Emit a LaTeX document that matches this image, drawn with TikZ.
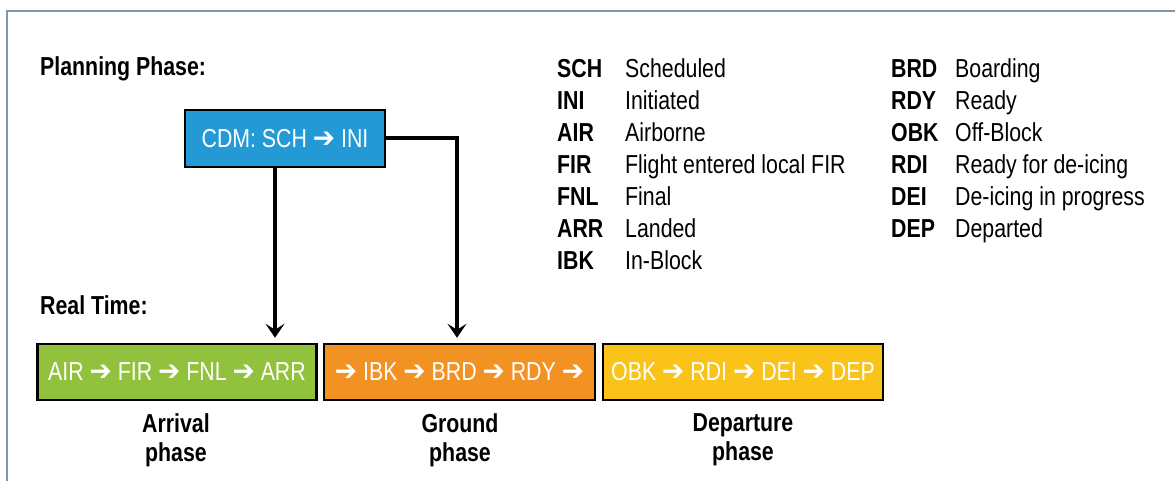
\documentclass[tikz,border=0pt]{standalone}
\usepackage{fontspec}
\setmainfont{Liberation Sans}[FakeStretch=0.82]
\newfontfamily\arrowfont{DejaVu Sans}[FakeStretch=0.95]
\usepackage{tikz}
\usetikzlibrary{arrows.meta}

\definecolor{cdmblue}{HTML}{2399D6}
\definecolor{arrgreen}{HTML}{92C13E}
\definecolor{gndorange}{HTML}{F29222}
\definecolor{depyellow}{HTML}{FAC319}
\definecolor{framegray}{HTML}{7D98A8}

\newcommand{\nextstate}{{\arrowfont\bfseries\fontsize{28}{29}\selectfont ➔}}
\newcommand{\legendrow}[2]{\makebox[68pt][l]{\bfseries #1}#2}

\begin{document}
\begin{tikzpicture}[x=1pt, y=-1pt,
    font=\fontsize{26}{29}\selectfont,
    phasebox/.style={draw=black, line width=2.5pt, text=white, minimum height=56pt, inner sep=0pt},
    heading/.style={anchor=base west, inner sep=0pt, font=\fontsize{26}{29}\selectfont\bfseries},
    legend/.style={anchor=base west, inner sep=0pt},
    caption/.style={align=center, inner sep=0pt, font=\fontsize{26}{29}\selectfont\bfseries},
    link/.style={line width=4pt, -{Stealth[length=14pt, width=19pt, inset=6pt]}, shorten >=5pt}]
  \useasboundingbox (0, 0) rectangle (1175, 481);
  \draw [framegray, line width=1.5pt] (7, 481) -- (7, 11) -- (1175, 11);

  \node [heading] (plan) at (40, 76) {Planning Phase:};
  \node [heading] (real) at (40, 314) {Real Time:};

  \node [phasebox, fill=cdmblue, minimum width=200pt, minimum height=57pt] (cdm) at (285, 138.5) {CDM: SCH \nextstate{} INI};

  \node [phasebox, fill=arrgreen, minimum width=279pt] (arrival) at (177, 372) {AIR \nextstate{} FIR \nextstate{} FNL \nextstate{} ARR};
  \node [phasebox, fill=gndorange, minimum width=271pt] (ground) at (459.5, 372) {\nextstate{} IBK \nextstate{} BRD \nextstate{} RDY \nextstate};
  \node [phasebox, fill=depyellow, minimum width=280pt] (departure) at (743, 372) {OBK \nextstate{} RDI \nextstate{} DEI \nextstate{} DEP};

  \node [caption] (arrcap) at (176, 440) {Arrival\\phase};
  \node [caption] (gndcap) at (460, 440) {Ground\\phase};
  \node [caption] (depcap) at (743, 440) {Departure\\phase};

  \draw [link] ([xshift=-10pt]cdm.south) -- ([xshift=-10pt]cdm.south |- arrival.north);
  \draw [link] (cdm.east) -| ([xshift=-2.5pt]ground.north);

  % legend
  \node [legend] (sch) at (557, 77.5) {\legendrow{SCH}{Scheduled}};
  \node [legend] (ini) at (557, 109.5) {\legendrow{INI}{Initiated}};
  \node [legend] (air) at (557, 141.5) {\legendrow{AIR}{Airborne}};
  \node [legend] (fir) at (557, 173.5) {\legendrow{FIR}{Flight entered local FIR}};
  \node [legend] (fnl) at (557, 205.5) {\legendrow{FNL}{Final}};
  \node [legend] (arr) at (557, 237.5) {\legendrow{ARR}{Landed}};
  \node [legend] (ibk) at (557, 269.5) {\legendrow{IBK}{In-Block}};
  \node [legend] (brd) at (891, 77.5) {\makebox[64pt][l]{\bfseries BRD}Boarding};
  \node [legend] (rdy) at (891, 109.5) {\makebox[64pt][l]{\bfseries RDY}Ready};
  \node [legend] (obk) at (891, 141.5) {\makebox[64pt][l]{\bfseries OBK}Off-Block};
  \node [legend] (rdi) at (891, 173.5) {\makebox[64pt][l]{\bfseries RDI}Ready for de-icing};
  \node [legend] (dei) at (891, 205.5) {\makebox[64pt][l]{\bfseries DEI}De-icing in progress};
  \node [legend] (dep) at (891, 237.5) {\makebox[64pt][l]{\bfseries DEP}Departed};
\end{tikzpicture}
\end{document}
